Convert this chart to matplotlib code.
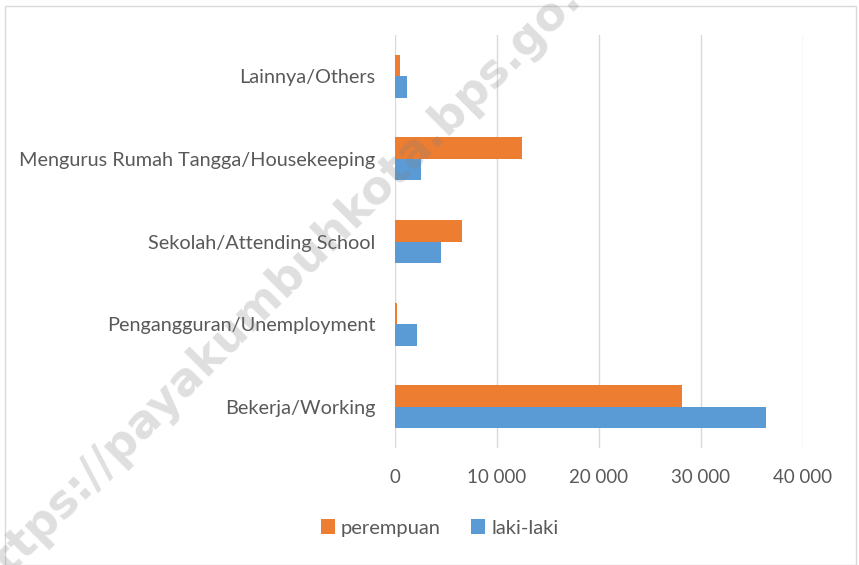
import numpy as np
import matplotlib.pyplot as plt
from matplotlib.patches import Rectangle
from matplotlib.ticker import FuncFormatter

# Data
categories = ["Bekerja/Working", "Pengangguran/Unemployment", "Sekolah/Attending School",
              "Mengurus Rumah Tangga/Housekeeping", "Lainnya/Others"]
perempuan = [28170, 235, 6600, 12420, 460]
laki_laki = [36340, 2130, 4480, 2590, 1215]
x_ticks = [0, 10000, 20000, 30000, 40000]

plt.rcParams['font.family'] = ['Lato', 'DejaVu Sans']
text_color = '#595959'

fig = plt.figure(figsize=(8.59, 5.65), dpi=100)
ax = fig.add_axes([0.4598, 0.207, 0.475, 0.731])

y = np.arange(len(categories))
h = 0.26
ax.barh(y + h / 2, perempuan, height=h, color='#ED7D31', label='perempuan', zorder=2)
ax.barh(y - h / 2, laki_laki, height=h, color='#5B9BD5', label='laki-laki', zorder=2)

ax.set_xlim(0, 40000)
ax.set_ylim(-0.5, len(categories) - 0.5)
ax.set_xticks(x_ticks)
ax.xaxis.set_major_formatter(FuncFormatter(lambda v, p: f"{int(v):,}".replace(",", " ")))
ax.set_yticks(y)
ax.set_yticklabels(categories)
ax.tick_params(axis='both', length=0, colors=text_color)
ax.tick_params(axis='x', pad=15, labelsize=13.5)
ax.tick_params(axis='y', pad=14, labelsize=14.3)
ax.grid(axis='x', color='#d9d9d9', linewidth=1, zorder=0)
for s in ax.spines.values():
    s.set_visible(False)

leg = fig.legend(loc='center', bbox_to_anchor=(0.512, 0.0655), ncol=2, frameon=False,
                 fontsize=14.5, handlelength=0.7, handleheight=0.7, handletextpad=0.3,
                 columnspacing=1.5)
for t in leg.get_texts():
    t.set_color(text_color)

# chart border
fig.patches.append(Rectangle((0.006, 0.0), 0.99, 0.99, transform=fig.transFigure,
                             fill=False, edgecolor='#d9d9d9', linewidth=1))

# watermark
fig.text(292 / 859, 1 - 272 / 565, "https://payakumbuhkota.bps.go.id", rotation=45,
         ha='center', va='center', fontsize=33, fontweight='bold', color='#808080',
         alpha=0.25, family='DejaVu Sans', zorder=10)

fig.savefig('out.png', dpi=100)
